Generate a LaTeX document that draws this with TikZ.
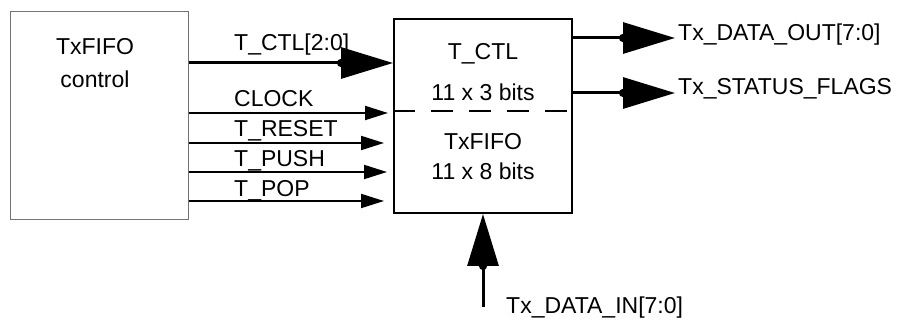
\documentclass[tikz,border=0pt]{standalone}
\usepackage{fontspec}
\setmainfont{Liberation Sans}
\usepackage{tikz}
\usetikzlibrary{arrows.meta}
\newcommand{\sigfont}{\fontsize{23}{33}\selectfont}
\tikzset{
  ctrlbox/.style={rectangle,draw=black!55,line width=1pt,
    minimum width=178pt,minimum height=208pt,inner sep=0pt},
  fifobox/.style={rectangle,draw=black,line width=2pt,
    minimum width=178pt,minimum height=194pt,inner sep=0pt},
  txt/.style={inner sep=0pt,font=\sigfont},
  divider/.style={line width=2pt,dash pattern=on 22pt off 16pt},
  busarrow/.style={line width=3pt,
    -{Circle[length=8pt,sep=-4pt]Triangle[length=52pt,width=31pt]}},
  sigarrow/.style={line width=2pt,-{Triangle[length=23pt,width=14pt]}}
}

\begin{document}
\begin{tikzpicture}[x=1pt,y=-1pt]
\useasboundingbox (0,0) rectangle (898,320);
\node[ctrlbox] (ctrl) at (99,116) {};
\node[txt,align=center,anchor=base] (ctrltxt) at (95,88) {TxFIFO\\control};
\node[fifobox] (fifo) at (483,116) {};
\node[txt,anchor=base] (ctltxt) at (483,60) {T\_CTL};
\node[txt,anchor=base] (ctlbits) at (483,101) {11 x 3 bits};
\node[txt,anchor=base] (fifotxt) at (483,150) {TxFIFO};
\node[txt,anchor=base] (fifobits) at (483,180) {11 x 8 bits};
\draw[divider] (fifo.west |- 0,111) -- (fifo.east |- 0,111);

% inputs from the control block
\coordinate (clkend) at (388,113);
\coordinate (rstend) at (384,143);
\coordinate (pushend) at (387,172);
\coordinate (popend) at (384,201);
\draw[busarrow] (ctrl.east |- 0,63) -- (fifo.west |- 0,63);
\draw[sigarrow] (ctrl.east |- 0,113) -- (clkend);
\draw[sigarrow] (ctrl.east |- 0,143) -- (rstend);
\draw[sigarrow] (ctrl.east |- 0,172) -- (pushend);
\draw[sigarrow] (ctrl.east |- 0,201) -- (popend);
\node[txt,anchor=base west] (ctlin) at (234,51) {T\_CTL[2:0]};
\node[txt,anchor=base west] (clk) at (234,107) {CLOCK};
\node[txt,anchor=base west] (rst) at (234,137) {T\_RESET};
\node[txt,anchor=base west] (push) at (234,167) {T\_PUSH};
\node[txt,anchor=base west] (pop) at (234,197) {T\_POP};

% outputs and data input
\coordinate (doutend) at (675,38);
\coordinate (flagend) at (675,93);
\coordinate (dinstart) at (483,307);
\draw[busarrow] (fifo.east |- doutend) -- (doutend);
\draw[busarrow] (fifo.east |- flagend) -- (flagend);
\draw[busarrow] (dinstart) -- (fifo.south);
\node[txt,anchor=base west] (dout) at (678,41) {Tx\_DATA\_OUT[7:0]};
\node[txt,anchor=base west] (flags) at (678,95) {Tx\_STATUS\_FLAGS};
\node[txt,anchor=base west] (din) at (506,314) {Tx\_DATA\_IN[7:0]};
\end{tikzpicture}
\end{document}
